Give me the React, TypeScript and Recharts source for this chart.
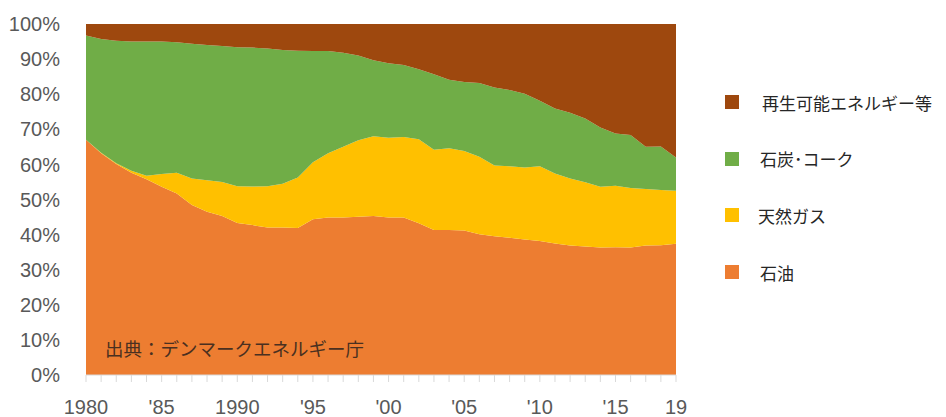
import React from "react";
import { AreaChart, Area, XAxis, YAxis } from "recharts";

const years = [
  1980, 1981, 1982, 1983, 1984, 1985, 1986, 1987, 1988, 1989,
  1990, 1991, 1992, 1993, 1994, 1995, 1996, 1997, 1998, 1999,
  2000, 2001, 2002, 2003, 2004, 2005, 2006, 2007, 2008, 2009,
  2010, 2011, 2012, 2013, 2014, 2015, 2016, 2017, 2018, 2019,
];

// shares in %
const oil = [
  67.0, 63.2, 60.1, 57.6, 55.8, 53.6, 51.7, 48.4, 46.5, 45.3,
  43.3, 42.7, 42.0, 42.0, 41.9, 44.4, 44.9, 44.9, 45.1, 45.3,
  44.9, 44.9, 43.2, 41.3, 41.3, 41.2, 40.1, 39.5, 39.1, 38.6,
  38.2, 37.5, 36.9, 36.6, 36.3, 36.4, 36.3, 36.9, 37.0, 37.4,
];
const gas = [
  0.0, 0.1, 0.2, 0.6, 1.0, 3.7, 5.9, 7.6, 9.0, 9.7,
  10.5, 11.0, 11.8, 12.5, 14.4, 16.2, 18.3, 20.1, 21.8, 22.7,
  22.7, 22.9, 24.0, 22.9, 23.3, 22.6, 22.1, 20.2, 20.4, 20.5,
  21.3, 19.9, 19.1, 18.3, 17.3, 17.5, 17.0, 16.1, 15.7, 15.1,
];
const coal = [
  29.7, 32.4, 34.9, 36.8, 38.2, 37.7, 37.2, 38.4, 38.5, 38.7,
  39.6, 39.6, 39.2, 38.1, 36.1, 31.7, 29.1, 26.8, 24.1, 21.7,
  21.2, 20.5, 19.9, 21.5, 19.5, 19.7, 21.0, 22.2, 21.7, 21.0,
  18.6, 18.5, 18.7, 18.2, 16.9, 14.9, 15.1, 12.0, 12.4, 9.5,
];
const renewables = [
  3.3, 4.3, 4.8, 5.0, 5.0, 5.0, 5.2, 5.6, 6.0, 6.3,
  6.6, 6.7, 7.0, 7.4, 7.6, 7.7, 7.7, 8.2, 9.0, 10.3,
  11.2, 11.7, 12.9, 14.3, 15.9, 16.5, 16.8, 18.1, 18.8, 19.9,
  21.9, 24.1, 25.3, 26.9, 29.5, 31.2, 31.6, 35.0, 34.9, 38.0,
];

const yTicks = [0, 10, 20, 30, 40, 50, 60, 70, 80, 90, 100];
const xLabeled = [1980, 1985, 1990, 1995, 2000, 2005, 2010, 2015, 2019];
const xLabels = ["1980", "'85", "1990", "'95", "'00", "'05", "'10", "'15", "19"];

const series = [
  { key: "renewables", name: "再生可能エネルギー等", color: "#9E480E" },
  { key: "coal", name: "石炭･コーク", color: "#70AD47" },
  { key: "gas", name: "天然ガス", color: "#FFC000" },
  { key: "oil", name: "石油", color: "#ED7D31" },
];

const data = years.map((y, i) => ({
  year: y,
  oil: oil[i],
  gas: gas[i],
  coal: coal[i],
  renewables: renewables[i],
}));

const axisFont = { fill: "#595959", fontSize: 20, fontFamily: "'Liberation Sans', Arial, sans-serif" };

export default function App() {
  return (
    <div style={{ position: "absolute", left: 0, top: 0, width: 946, height: 417, background: "#fff", fontFamily: "'Noto Sans CJK JP', sans-serif" }}>
      <AreaChart
        width={700}
        height={417}
        data={data}
        margin={{ top: 24, right: 24, left: 16, bottom: 6 }}
      >
        <XAxis
          dataKey="year"
          type="number"
          domain={[1980, 2019]}
          ticks={years}
          interval={0}
          tickFormatter={(v: number) => {
            const i = xLabeled.indexOf(v);
            return i >= 0 ? xLabels[i] : "";
          }}
          tick={axisFont}
          tickSize={7}
          tickLine={{ stroke: "#d9d9d9" }}
          axisLine={{ stroke: "#d9d9d9" }}
          tickMargin={18}
          height={36}
        />
        <YAxis
          domain={[0, 100]}
          ticks={yTicks}
          tickFormatter={(v: number) => `${v}%`}
          tick={axisFont}
          axisLine={false}
          tickLine={false}
          tickMargin={20}
          width={70}
          allowDataOverflow
        />
        <Area type="linear" dataKey="oil" stackId="1" stroke="none" fill="#ED7D31" fillOpacity={1} isAnimationActive={false} />
        <Area type="linear" dataKey="gas" stackId="1" stroke="none" fill="#FFC000" fillOpacity={1} isAnimationActive={false} />
        <Area type="linear" dataKey="coal" stackId="1" stroke="none" fill="#70AD47" fillOpacity={1} isAnimationActive={false} />
        <Area type="linear" dataKey="renewables" stackId="1" stroke="none" fill="#9E480E" fillOpacity={1} isAnimationActive={false} />
      </AreaChart>

      {/* source note inside the plot */}
      <div style={{ position: "absolute", left: 105, top: 335, fontSize: 18.5, color: "#4a3020", whiteSpace: "nowrap", lineHeight: "26px" }}>
        出典：デンマークエネルギー庁
      </div>

      {/* legend */}
      {series.map((s, i) => (
        <div key={s.key} style={{ position: "absolute", left: 725, top: 95 + i * 56.7, height: 14, display: "flex", alignItems: "center" }}>
          <div style={{ width: 14, height: 14, background: s.color }} />
          <span style={{ marginLeft: i === 0 ? 23 : i === 2 ? 19 : 21, fontSize: 17, color: "#262626", whiteSpace: "nowrap" }}>{s.name}</span>
        </div>
      ))}
    </div>
  );
}
